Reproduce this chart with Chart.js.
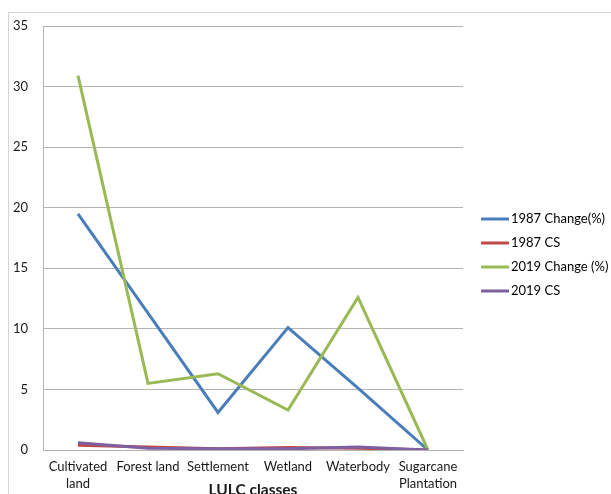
<!DOCTYPE html>
<html>
<head>
<meta charset="utf-8">
<script src="https://cdn.jsdelivr.net/npm/chart.js@4"></script>
<style>
  html, body { margin: 0; padding: 0; background: #fff; overflow: hidden; width: 611px; height: 494px; }
  #frame { position: absolute; left: 8px; top: 12px; width: 700px; height: 600px;
           border-left: 1px solid #d4d4d4; border-top: 1px solid #d4d4d4; }
  #wrap { position: absolute; left: 0; top: 0; width: 611px; height: 512px; }
</style>
</head>
<body>
<div id="frame"></div>
<div id="wrap"><canvas id="c" width="611" height="512"></canvas></div>
<script>
// LULC classes along the x axis
const categories = [['Cultivated', 'land'], 'Forest land', 'Settlement', 'Wetland', 'Waterbody', ['Sugarcane', 'Plantation']];

// Series values
const change1987 = [19.5, 11.3, 3.1, 10.1, 5.1, 0];
const cs1987     = [0.4, 0.25, 0.1, 0.2, 0.15, 0];
const change2019 = [30.9, 5.5, 6.3, 3.3, 12.6, 0];
const cs2019     = [0.6, 0.15, 0.1, 0.1, 0.25, 0];

const seriesNames = ['1987 Change(%)', '1987 CS', '2019 Change (%)', '2019 CS'];
const seriesColors = ['#4a7ebb', '#be4b48', '#98b954', '#7d60a0'];

// Y axis range
const yMin = 0, yMax = 35, yStep = 5;

const FONT = 'Lato, "Open Sans", sans-serif';
const gridGray = '#b4b4b4';

// Legend drawn at the right of the plot, one row per dataset
const sideLegend = {
  id: 'sideLegend',
  afterDraw(chart) {
    const ctx = chart.ctx;
    ctx.save();
    chart.data.datasets.forEach((ds, i) => {
      const y = 219 + i * 24;
      ctx.strokeStyle = ds.borderColor;
      ctx.lineWidth = 3;
      ctx.beginPath();
      ctx.moveTo(481, y);
      ctx.lineTo(509, y);
      ctx.stroke();
      ctx.fillStyle = '#000';
      ctx.font = '13px ' + FONT;
      ctx.textAlign = 'left';
      ctx.textBaseline = 'middle';
      ctx.fillText(ds.label, 511, y);
    });
    ctx.restore();
  }
};

const values = [change1987, cs1987, change2019, cs2019];

new Chart(document.getElementById('c'), {
  type: 'line',
  data: {
    labels: categories,
    datasets: values.map((v, i) => ({
      label: seriesNames[i],
      data: v,
      borderColor: seriesColors[i],
      backgroundColor: seriesColors[i],
      borderWidth: 3,
      pointRadius: 0,
      tension: 0,
      fill: false,
      order: values.length - 1 - i
    }))
  },
  options: {
    responsive: false,
    animation: false,
    devicePixelRatio: 1,
    layout: { padding: { top: 26, right: 148, left: 0, bottom: 0 } },
    plugins: {
      legend: { display: false },
      tooltip: { enabled: false }
    },
    scales: {
      x: {
        type: 'category',
        offset: true,
        grid: { display: false, drawTicks: false },
        border: { display: true, color: gridGray, width: 1 },
        ticks: { color: '#1a1a1a', font: { family: FONT, size: 13, lineHeight: 1.25 }, padding: 9, maxRotation: 0, autoSkip: false },
        title: { display: true, text: 'LULC classes', color: '#1a1a1a',
                 font: { family: FONT, size: 15.5, weight: 'bold' }, padding: { top: 0, bottom: 13 } },
        afterFit(s) { s.height = 62; }
      },
      y: {
        min: yMin, max: yMax,
        grid: { color: gridGray, drawTicks: false, lineWidth: 1 },
        border: { display: true, color: gridGray, width: 1 },
        ticks: { stepSize: yStep, color: '#1a1a1a', font: { family: FONT, size: 13 }, padding: 15 },
        afterFit(s) { s.width = 43; }
      }
    }
  },
  plugins: [sideLegend]
});
</script>
</body>
</html>
